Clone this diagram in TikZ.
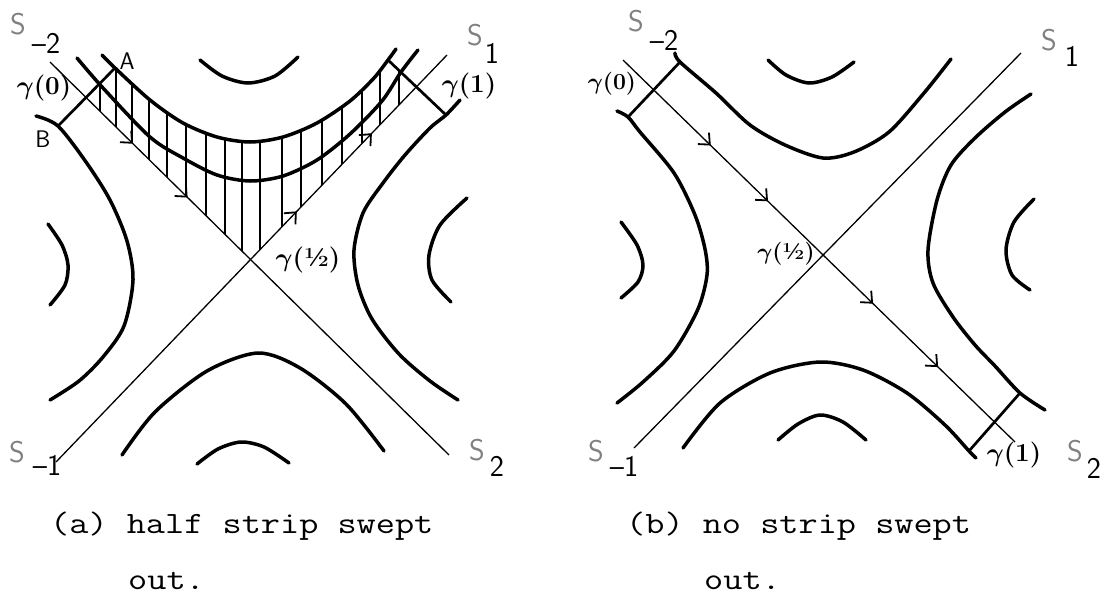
\RequirePackage{fix-cm}
\documentclass[tikz,border=0pt]{standalone}
\usepackage{fontspec}
\usetikzlibrary{decorations.markings,arrows.meta}
\definecolor{sgray}{gray}{0.5}
\begin{document}
\begin{tikzpicture}[x=1pt,y=-1pt,
  curve/.style={line width=3.5pt,line cap=round,line join=round},
  asym/.style={line width=1.3pt},
  cross/.style={line width=2.7pt,line cap=round},
  hatchline/.style={line width=1.2pt},
  barb/.tip={Straight Barb[length=9pt,width=16pt,line width=1.8pt]},
  slab/.style={inner sep=0pt,font=\sffamily\fontsize{30}{34}\selectfont},
  sletter/.style={slab,text=sgray},
  glab/.style={inner sep=0pt,font=\boldmath\bfseries\fontsize{26}{30}\selectfont},
  glabs/.style={inner sep=0pt,font=\boldmath\bfseries\fontsize{23}{27}\selectfont},
  ptlab/.style={inner sep=0pt,font=\sffamily\fontsize{24}{28}\selectfont},
  captext/.style={anchor=base west,inner sep=0pt,font=\ttfamily\fontsize{31}{36}\selectfont}
]
\useasboundingbox (0,0) rectangle (1103,595);

% ================= panel (a) =================
\coordinate (aD1s) at (50,62);
\coordinate (aD1e) at (449,455);
\coordinate (aD2s) at (56,462);
\coordinate (aD2e) at (447,55);
\coordinate (aO) at (intersection of aD1s--aD1e and aD2s--aD2e);
\coordinate (aA) at (115,68);
\coordinate (aB) at (58,126);
\coordinate (aT) at (388,60);
\coordinate (aE) at (446,115);
\coordinate (aP) at (intersection of aA--aB and aD1s--aD1e);
\coordinate (aQ) at (intersection of aT--aE and aD2s--aD2e);

% hatching
\begin{scope}
\clip (aA) -- (aP) -- (aO) -- (aQ) -- (aT)
  -- plot[smooth] coordinates {(388,60) (374,78) (350,101) (317,123) (283,137) (250,142) (217,137) (183,123) (150,100) (115,68)} -- cycle;
\foreach \x in {100,116,132,149,167,186,206,225,242,260,282,301,322,342,362,380,399}
  \draw[hatchline] (\x,30) -- (\x,270);
\end{scope}

% asymptotes
\draw[asym,postaction={decorate},decoration={markings,
  mark=at position 0.208 with {\arrow{barb}},
  mark=at position 0.345 with {\arrow{barb}}}] (aD1s) -- (aD1e);
\draw[asym,postaction={decorate},decoration={markings,
  mark=at position 0.616 with {\arrow{barb}},
  mark=at position 0.808 with {\arrow{barb}}}] (aD2s) -- (aD2e);

% level curves
\draw[curve] plot[smooth] coordinates {(102,55) (115,68) (150,100) (183,123) (217,137) (250,142) (283,137) (317,123) (350,101) (374,78) (388,60) (396,49)};
\draw[curve] plot[smooth] coordinates {(77,58) (103,88) (150,137) (183,158) (217,175) (250,181) (283,176) (317,160) (350,134) (382,101) (401,72) (418,50)};
\draw[curve] plot[smooth] coordinates {(200,60) (222,76) (248,83) (275,76) (298,57)};
\draw[curve] plot[smooth] coordinates {(36,116) (58,126) (86,162) (110,200) (127,241) (133,280) (124,326) (103,357) (79,381) (50,400)};
\draw[curve] plot[smooth] coordinates {(48,224) (62,245) (68,265) (65,285) (50,305)};
\draw[curve] plot[smooth] coordinates {(460,100) (446,115) (430,128) (405,155) (383,183) (363,213) (354,250) (358,285) (372,319) (399,354) (430,381) (458,400)};
\draw[curve] plot[smooth] coordinates {(467,198) (440,225) (429,255) (432,280) (451,302)};
\draw[curve] plot[smooth] coordinates {(122,455) (155,412) (207,371) (258,353) (300,368) (346,404) (384,451)};
\draw[curve] plot[smooth] coordinates {(197,464) (218,449) (241,442) (264,447) (289,463)};

% cross sections
\draw[cross] (aA) -- (aB);
\draw[cross] (aT) -- (aE);

% labels
\node[sletter] (aS1) at (18,24) {S};
\node[slab] (aS1i) at (46,43) {--2};
\node[sletter] (aS2) at (475,35) {S};
\node[slab] (aS2i) at (492,53) {1};
\node[sletter] (aS3) at (17,452) {S};
\node[slab] (aS3i) at (47,465) {--1};
\node[sletter] (aS4) at (477,450) {S};
\node[slab] (aS4i) at (497,466) {2};
\node[glab] (ag0) at (44,88) {$\gamma(0)$};
\node[glab] (ag1) at (469,86) {$\gamma(1)$};
\node[glab] (agh) at (308,260) {$\gamma(\mbox{\textonehalf})$};
\node[ptlab] (aAl) at (127,61) {A};
\node[ptlab] (aBl) at (43,139) {B};
\node[captext] (acap1) at (50,533) {\scalebox{1.2}[1]{(a) half strip swept}};
\node[captext] (acap2) at (128,589) {\scalebox{1.2}[1]{out.}};

% ================= panel (b) =================
\coordinate (bD1s) at (623,60);
\coordinate (bD1e) at (1015,442);
\coordinate (bD2s) at (634,448);
\coordinate (bD2e) at (1021,53);
\coordinate (bU) at (680,62);
\coordinate (bL) at (628,117);
\coordinate (bR) at (1020,393);
\coordinate (bW) at (969,451);

\draw[asym,postaction={decorate},decoration={markings,
  mark=at position 0.224 with {\arrow{barb}},
  mark=at position 0.370 with {\arrow{barb}},
  mark=at position 0.638 with {\arrow{barb}},
  mark=at position 0.804 with {\arrow{barb}}}] (bD1s) -- (bD1e);
\draw[asym] (bD2s) -- (bD2e);

\draw[curve] plot[smooth] coordinates {(675,53) (680,62) (716,93) (750,125) (785,145) (823,158) (854,152) (889,132) (924,93) (951,59)};
\draw[curve] plot[smooth] coordinates {(768,60) (786,75) (809,83) (832,77) (854,62)};
\draw[curve] plot[smooth] coordinates {(617,111) (628,117) (640,132) (674,173) (695,215) (705,249) (707,275) (698,309) (674,351) (643,382) (617,403)};
\draw[curve] plot[smooth] coordinates {(621,222) (637,245) (643,265) (638,282) (621,298)};
\draw[curve] plot[smooth] coordinates {(1031,94) (1005,112) (975,138) (951,165) (937,200) (928,250) (933,283) (953,317) (975,345) (995,366) (1020,393) (1045,410)};
\draw[curve] plot[smooth] coordinates {(1034,199) (1014,222) (1006,250) (1012,275) (1030,290)};
\draw[curve] plot[smooth] coordinates {(683,448) (720,403) (770,373) (820,362) (863,370) (907,393) (945,425) (969,451) (976,458)};
\draw[curve] plot[smooth] coordinates {(778,440) (798,424) (820,415) (843,422) (866,440)};

\draw[cross] (bU) -- (bL);
\draw[cross] (bR) -- (bW);

\node[sletter] (bS1) at (636,21) {S};
\node[slab] (bS1i) at (664,40) {--2};
\node[sletter] (bS2) at (1049,40) {S};
\node[slab] (bS2i) at (1072,56) {1};
\node[sletter] (bS3) at (596,451) {S};
\node[slab] (bS3i) at (624,466) {--1};
\node[sletter] (bS4) at (1075,451) {S};
\node[slab] (bS4i) at (1094,468) {2};
\node[glabs] (bg0) at (612,84) {$\gamma(0)$};
\node[glabs] (bgh) at (786,254) {$\gamma(\mbox{\textonehalf})$};
\node[glab] (bg1) at (1014,455) {$\gamma(1)$};
\node[captext] (bcap1) at (626,533) {\scalebox{1.2}[1]{(b) no strip swept}};
\node[captext] (bcap2) at (704,589) {\scalebox{1.2}[1]{out.}};
\end{tikzpicture}
\end{document}
